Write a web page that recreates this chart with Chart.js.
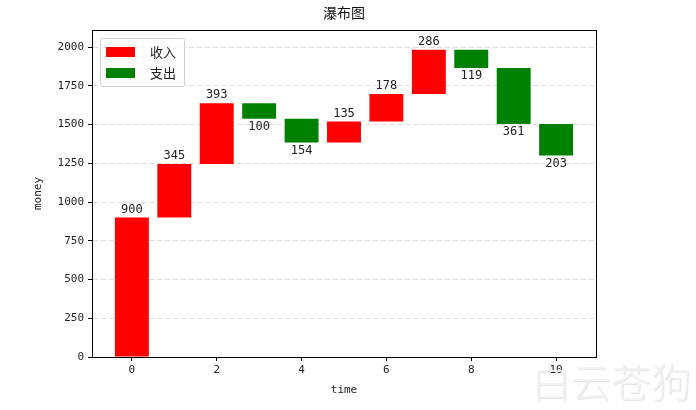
<!DOCTYPE html>
<html>
<head>
<meta charset="utf-8">
<script src="https://cdn.jsdelivr.net/npm/chart.js@4/dist/chart.umd.min.js"></script>
<style>
  html, body { margin: 0; padding: 0; background: #fff; }
  #wrap { width: 696px; height: 410px; position: relative; }
</style>
</head>
<body>
<div id="wrap"><canvas id="c"></canvas></div>
<script>
// ---- data ----
const titleText = '瀑布图';
const xTitle = 'time';
const yTitle = 'money';
const legendLabels = ['收入', '支出'];
const steps = [0, 1, 2, 3, 4, 5, 6, 7, 8, 9, 10];
const amounts = [900, 345, 393, -100, -154, 135, 178, 286, -119, -361, -203];
const xTicks = [0, 2, 4, 6, 8, 10];
const yTicks = [0, 250, 500, 750, 1000, 1250, 1500, 1750, 2000];
const watermark = '白云苍狗';

// build floating bars from the amounts
const incomeData = [];
const expenseData = [];
let running = 0;
steps.forEach((s, i) => {
  const a = amounts[i];
  const start = running;
  running += a;
  if (a >= 0) incomeData.push({ x: s, y: [start, running], v: a });
  else expenseData.push({ x: s, y: [running, start], v: -a });
});

const monoFont = '"DejaVu Sans Mono", monospace';
const cjkFont = '"Noto Sans CJK SC", sans-serif';

const decor = {
  id: 'decor',
  afterDraw(chart) {
    const ctx = chart.ctx;
    const ca = chart.chartArea;
    const xs = chart.scales.x, ys = chart.scales.y;
    ctx.save();
    // frame
    ctx.strokeStyle = '#000';
    ctx.lineWidth = 1;
    ctx.strokeRect(Math.round(ca.left) + 0.5, Math.round(ca.top) + 0.5,
                   Math.round(ca.right - ca.left), Math.round(ca.bottom - ca.top));
    // bar value labels
    ctx.fillStyle = '#222';
    ctx.font = '12px ' + monoFont;
    ctx.textAlign = 'center';
    incomeData.forEach(d => {
      ctx.textBaseline = 'bottom';
      ctx.fillText(String(d.v), xs.getPixelForValue(d.x), ys.getPixelForValue(d.y[1]) - 2);
    });
    expenseData.forEach(d => {
      ctx.textBaseline = 'top';
      ctx.fillText(String(d.v), xs.getPixelForValue(d.x), ys.getPixelForValue(d.y[0]) + 2);
    });
    // title
    ctx.font = '14px ' + cjkFont;
    ctx.textBaseline = 'middle';
    ctx.fillStyle = '#111';
    ctx.fillText(titleText, (ca.left + ca.right) / 2, 13);
    // axis titles
    ctx.font = '11px ' + monoFont;
    ctx.fillStyle = '#222';
    ctx.fillText(xTitle, (ca.left + ca.right) / 2, 390);
    ctx.save();
    ctx.translate(38, (ca.top + ca.bottom) / 2);
    ctx.rotate(-Math.PI / 2);
    ctx.fillText(yTitle, 0, 0);
    ctx.restore();
    // legend
    const lx = ca.left + 8, ly = ca.top + 8;
    ctx.fillStyle = 'rgba(255,255,255,0.85)';
    ctx.strokeStyle = '#d0d0d0';
    ctx.lineWidth = 1;
    ctx.beginPath();
    if (ctx.roundRect) ctx.roundRect(lx + 0.5, ly + 0.5, 84, 48, 2); else ctx.rect(lx + 0.5, ly + 0.5, 84, 48);
    ctx.fill(); ctx.stroke();
    const colors = ['#ff0000', '#008000'];
    ctx.font = '13px ' + cjkFont;
    ctx.textAlign = 'left';
    legendLabels.forEach((t, i) => {
      const yy = ly + 9 + i * 21;
      ctx.fillStyle = colors[i];
      ctx.fillRect(lx + 6, yy, 29, 10);
      ctx.fillStyle = '#222';
      ctx.fillText(t, lx + 50, yy + 5);
    });
    // watermark
    ctx.font = '300 40px ' + cjkFont;
    ctx.textAlign = 'left';
    ctx.textBaseline = 'middle';
    ctx.shadowColor = 'rgba(0,0,0,0.12)';
    ctx.shadowOffsetX = 1; ctx.shadowOffsetY = 1; ctx.shadowBlur = 1;
    ctx.fillStyle = 'rgba(242,242,242,0.9)';
    ctx.fillText(watermark, 531, 382);
    ctx.restore();
  }
};

new Chart(document.getElementById('c'), {
  type: 'bar',
  data: {
    datasets: [
      { label: legendLabels[0], data: incomeData, backgroundColor: '#ff0000', borderWidth: 0 },
      { label: legendLabels[1], data: expenseData, backgroundColor: '#008000', borderWidth: 0 }
    ]
  },
  options: {
    responsive: true,
    maintainAspectRatio: false,
    animation: false,
    devicePixelRatio: 1,
    layout: { padding: { left: 0, top: 30, right: 100, bottom: 0 } },
    datasets: { bar: { grouped: false, barPercentage: 0.8, categoryPercentage: 1.0 } },
    plugins: { legend: { display: false }, tooltip: { enabled: false }, title: { display: false } },
    scales: {
      x: {
        type: 'linear',
        min: -0.94, max: 10.94,
        offset: false,
        afterFit(s) { s.height = 53; },
        afterBuildTicks(s) { s.ticks = xTicks.map(v => ({ value: v })); },
        grid: { offset: false, drawOnChartArea: false, drawTicks: true, tickLength: 4, tickColor: '#000' },
        border: { display: true, color: '#000' },
        ticks: { font: { family: monoFont, size: 11 }, color: '#222', padding: 3, maxRotation: 0,
                 callback: v => String(v) }
      },
      y: {
        type: 'linear',
        min: 0, max: 2110,
        afterFit(s) { s.width = 92; },
        afterBuildTicks(s) { s.ticks = yTicks.map(v => ({ value: v })); },
        grid: { color: '#dddddd', drawTicks: true, tickLength: 4, tickColor: '#000' },
        border: { display: true, color: '#000', dash: [5, 3] },
        ticks: { font: { family: monoFont, size: 11 }, color: '#222', padding: 4,
                 callback: v => String(v) }
      }
    }
  },
  plugins: [decor]
});
</script>
</body>
</html>
